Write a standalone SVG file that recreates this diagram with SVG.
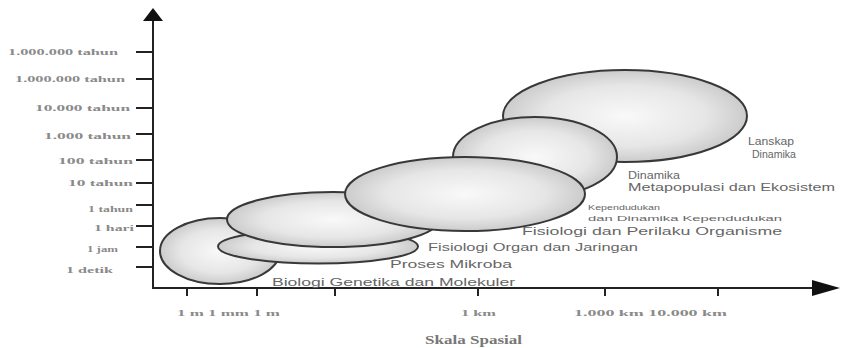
<svg xmlns="http://www.w3.org/2000/svg" width="853" height="348" viewBox="0 0 853 348">
<defs>
<radialGradient id="g" cx="0.5" cy="0.5" r="0.55">
<stop offset="0" stop-color="#f9f9f9"/>
<stop offset="0.6" stop-color="#e6e6e6"/>
<stop offset="1" stop-color="#c4c4c4"/>
</radialGradient>
</defs>
<style>
.e{fill:url(#g);stroke:#383838;stroke-width:2}
.ax{stroke:#222;stroke-width:2;fill:none}
.tk{stroke:#222;stroke-width:2}
.yl{font-family:"Liberation Serif",serif;font-size:9px;font-weight:bold;fill:#8a8a8a}
.xl{font-family:"Liberation Serif",serif;font-size:9px;font-weight:bold;fill:#8a8a8a}
.ttl{font-family:"Liberation Serif",serif;font-size:12px;font-weight:bold;fill:#777}
.lb{font-family:"Liberation Sans",sans-serif;font-size:10px;fill:#666}
.ls{font-family:"Liberation Sans",sans-serif;font-size:7.5px;fill:#666}
</style>
<rect width="853" height="348" fill="#fff"/>
<g id="axes">
<line class="ax" x1="153" y1="288" x2="153" y2="19"/>
<polygon points="153,8 143,21 163,21" fill="#111"/>
<line class="ax" x1="152" y1="288" x2="814" y2="288"/>
<polygon points="840,288 812,280 812,296" fill="#111"/>
<g id="yticks">
<line class="tk" x1="136" y1="52" x2="153" y2="52"/>
<line class="tk" x1="136" y1="79" x2="153" y2="79"/>
<line class="tk" x1="136" y1="108" x2="153" y2="108"/>
<line class="tk" x1="136" y1="134" x2="153" y2="134"/>
<line class="tk" x1="136" y1="160" x2="153" y2="160"/>
<line class="tk" x1="136" y1="183" x2="153" y2="183"/>
<line class="tk" x1="136" y1="205" x2="153" y2="205"/>
<line class="tk" x1="136" y1="226" x2="153" y2="226"/>
<line class="tk" x1="136" y1="247" x2="153" y2="247"/>
<line class="tk" x1="136" y1="267" x2="153" y2="267"/>
</g>
<g id="xticks">
<line class="tk" x1="187" y1="288" x2="187" y2="296"/>
<line class="tk" x1="257" y1="288" x2="257" y2="296"/>
<line class="tk" x1="335" y1="288" x2="335" y2="296"/>
<line class="tk" x1="478" y1="288" x2="478" y2="296"/>
<line class="tk" x1="605" y1="288" x2="605" y2="296"/>
<line class="tk" x1="718" y1="288" x2="718" y2="296"/>
</g>
</g>
<g id="ylabels">
<text class="yl" x="8" y="55" textLength="110" lengthAdjust="spacingAndGlyphs">1.000.000 tahun</text>
<text class="yl" x="15" y="82" textLength="110" lengthAdjust="spacingAndGlyphs">1.000.000 tahun</text>
<text class="yl" x="35" y="111" textLength="95" lengthAdjust="spacingAndGlyphs">10.000 tahun</text>
<text class="yl" x="44" y="139" textLength="87" lengthAdjust="spacingAndGlyphs">1.000 tahun</text>
<text class="yl" x="58" y="164" textLength="75" lengthAdjust="spacingAndGlyphs">100 tahun</text>
<text class="yl" x="68" y="186" textLength="65" lengthAdjust="spacingAndGlyphs">10 tahun</text>
<text class="yl" x="88" y="212" textLength="45" lengthAdjust="spacingAndGlyphs">1 tahun</text>
<text class="yl" x="94" y="231" textLength="40" lengthAdjust="spacingAndGlyphs">1 hari</text>
<text class="yl" x="87" y="252" textLength="31" lengthAdjust="spacingAndGlyphs">1 jam</text>
<text class="yl" x="66" y="273" textLength="47" lengthAdjust="spacingAndGlyphs">1 detik</text>
</g>
<g id="xlabels">
<text class="xl" x="177" y="316" textLength="103" lengthAdjust="spacingAndGlyphs">1 m 1 mm 1 m</text>
<text class="xl" x="461" y="316" textLength="35" lengthAdjust="spacingAndGlyphs">1 km</text>
<text class="xl" x="574" y="316" textLength="153" lengthAdjust="spacingAndGlyphs">1.000 km 10.000 km</text>
<text class="ttl" x="425" y="344" textLength="97" lengthAdjust="spacingAndGlyphs">Skala Spasial</text>
</g>
<g id="n-lanskap"><ellipse class="e" cx="625" cy="116" rx="122" ry="46"/></g>
<g id="n-dinamika"><ellipse class="e" cx="535" cy="157" rx="82" ry="40"/></g>
<g id="n-biologi"><ellipse class="e" cx="220" cy="251" rx="60" ry="33"/></g>
<g id="n-mikroba"><ellipse class="e" cx="318" cy="246.5" rx="100" ry="17"/></g>
<g id="n-organ"><ellipse class="e" cx="333" cy="219.5" rx="106" ry="27.5"/></g>
<g id="n-perilaku"><ellipse class="e" cx="465" cy="194" rx="120" ry="37"/></g>
<g id="labels">
<text class="lb" x="748" y="145" textLength="46" lengthAdjust="spacingAndGlyphs">Lanskap</text>
<text class="lb" x="752" y="158" textLength="44" lengthAdjust="spacingAndGlyphs">Dinamika</text>
<text class="lb" x="628" y="179" textLength="52" lengthAdjust="spacingAndGlyphs">Dinamika</text>
<text class="lb" x="628" y="191" textLength="207" lengthAdjust="spacingAndGlyphs">Metapopulasi dan Ekosistem</text>
<text class="ls" x="588" y="210" textLength="72" lengthAdjust="spacingAndGlyphs">Kependudukan</text>
<text class="ls" x="588" y="221" textLength="194" lengthAdjust="spacingAndGlyphs">dan Dinamika Kependudukan</text>
<text class="lb" x="522" y="235" textLength="260" lengthAdjust="spacingAndGlyphs">Fisiologi dan Perilaku Organisme</text>
<text class="lb" x="428" y="251" textLength="210" lengthAdjust="spacingAndGlyphs">Fisiologi Organ dan Jaringan</text>
<text class="lb" x="390" y="268" textLength="122" lengthAdjust="spacingAndGlyphs">Proses Mikroba</text>
<text class="lb" x="272" y="286" textLength="243" lengthAdjust="spacingAndGlyphs">Biologi Genetika dan Molekuler</text>
</g>
</svg>
